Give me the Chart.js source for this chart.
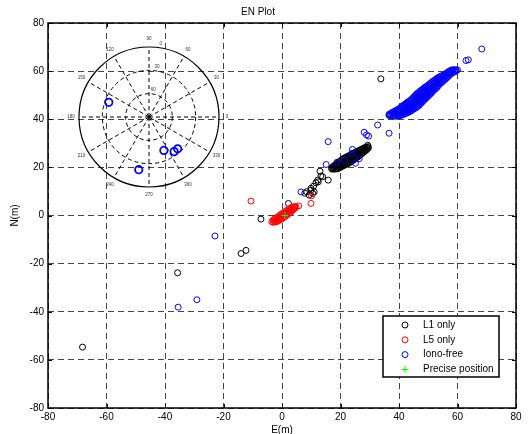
<!DOCTYPE html>
<html>
<head>
<meta charset="utf-8">
<script src="https://cdn.jsdelivr.net/npm/chart.js@4/dist/chart.umd.min.js"></script>
<style>
  html, body { margin: 0; padding: 0; background: #fff; }
  #wrap { position: relative; width: 528px; height: 434px; }
  #enChart { position: absolute; left: 0; top: 0; }
  #skyChart { position: absolute; left: 59px; top: 27px; }
</style>
</head>
<body>
<div id="wrap">
  <canvas id="enChart" width="528" height="434"></canvas>
  <canvas id="skyChart" width="180" height="180"></canvas>
</div>
<script>
const FONT = "'Liberation Sans', Arial, Helvetica, sans-serif";

// axis ticks (both E and N)
const axisTicks = [-80, -60, -40, -20, 0, 20, 40, 60, 80];

// E/N positions in metres
const l1Points = [
  [-68.2, -54.7], [-35.7, -23.8], [-14.0, -15.8], [-12.3, -14.5], [-7.2, -1.5],
  [2.2, 5.0], [7.8, 9.3], [8.4, 9.9], [9.9, 10.5], [11.0, 9.8], [9.3, 8.5],
  [10.5, 9.2], [9.9, 11.3], [10.8, 12.2], [11.6, 13.6], [12.4, 14.0], [12.2, 14.7],
  [13.3, 16.4], [13.9, 16.1], [15.8, 14.7], [13.0, 18.4], [29.3, 29.2], [33.8, 56.8],
  // dense cluster
  [17, 19.3], [17, 19.9], [17.5, 19.3], [17.5, 20.4],
  [18, 19.3], [18, 20.1], [18, 20.9], [18.5, 19.35], [18.5, 20.35], [18.5, 21.35],
  [19, 19.4], [19, 20.2], [19, 21.0], [19, 21.8], [19.5, 19.7], [19.5, 20.55], [19.5, 21.45], [19.5, 22.3],
  [20, 20.05], [20, 20.95], [20, 21.85], [20, 22.75], [20.5, 20.4], [20.5, 21.3], [20.5, 22.3], [20.5, 23.2],
  [21, 20.7], [21, 21.7], [21, 22.7], [21, 23.7], [21.5, 21.0], [21.5, 22.0], [21.5, 23.0], [21.5, 24.0],
  [22, 21.3], [22, 22.3], [22, 23.3], [22, 24.3], [22.5, 21.6], [22.5, 22.6], [22.5, 23.6], [22.5, 24.6],
  [23, 21.9], [23, 22.9], [23, 23.9], [23, 24.9], [23.5, 22.25], [23.5, 23.25], [23.5, 24.25], [23.5, 25.25],
  [24, 22.65], [24, 23.6], [24, 24.6], [24, 25.55], [24.5, 23.1], [24.5, 24.0], [24.5, 25.0], [24.5, 25.9],
  [25, 23.6], [25, 24.5], [25, 25.3], [25, 26.2], [25.5, 24.0], [25.5, 24.85], [25.5, 25.65], [25.5, 26.5],
  [26, 24.4], [26, 25.2], [26, 26.0], [26, 26.8], [26.5, 24.9], [26.5, 26.0], [26.5, 27.1],
  [27, 25.4], [27, 26.4], [27, 27.4], [27.5, 25.9], [27.5, 26.8], [27.5, 27.7],
  [28, 26.35], [28, 27.2], [28, 28.05], [28.5, 26.85], [28.5, 27.55], [28.5, 28.25],
  [29, 27.4], [29, 28.4], [29.5, 28.0], [29.5, 28.6]
];

const l5Points = [
  [-10.6, 6.0], [9.9, 5.0], [10.1, 8.2], [4.8, 3.6], [5.7, 4.0],
  // dense cluster
  [-3.5, -2.6], [-3.0, -2.8], [-3.0, -1.9],
  [-2.5, -2.75], [-2.5, -2.05], [-2.5, -1.35], [-2.0, -2.6], [-2.0, -1.8], [-2.0, -1.0],
  [-1.5, -2.4], [-1.5, -1.55], [-1.5, -0.7], [-1.0, -2.05], [-1.0, -1.1], [-1.0, -0.15],
  [-0.5, -1.65], [-0.5, -0.65], [-0.5, 0.35], [0, -1.3], [0, -0.3], [0, 0.7],
  [0.5, -0.9], [0.5, 0.1], [0.5, 1.1], [1.0, -0.45], [1.0, 0.55], [1.0, 1.55],
  [1.5, -0.05], [1.5, 0.95], [1.5, 1.95], [2.0, 0.45], [2.0, 1.4], [2.0, 2.35],
  [2.5, 0.95], [2.5, 1.85], [2.5, 2.75], [3.0, 1.4], [3.0, 2.25], [3.0, 3.1],
  [3.5, 2.0], [3.5, 2.7], [3.5, 3.4], [4.0, 2.6], [4.0, 3.6], [4.4, 3.1], [4.4, 3.7]
];

const ionoPoints = [
  [-35.5, -38.1], [-29.1, -35.0], [-22.9, -8.5], [6.5, 9.8], [15.1, 21.2], [15.8, 30.7],
  [18.8, 22.1], [21.3, 23.0], [23.8, 25.8], [24.1, 27.5], [25.1, 21.7], [26.4, 23.6],
  [28.1, 34.6], [28.9, 33.5], [29.6, 33.0], [32.7, 37.6], [36.6, 34.2],
  [62.9, 64.4], [63.7, 64.7], [68.3, 69.2],
  // dense cluster
  [36.6, 41.6], [36.6, 42.0], [37, 41.5], [37, 42.3], [37.5, 41.5], [37.5, 42.7],
  [38, 41.4], [38, 42.2], [38, 43.0], [38.5, 41.35], [38.5, 42.35], [38.5, 43.35],
  [39, 41.3], [39, 42.1], [39, 42.9], [39, 43.7], [39.5, 41.25], [39.5, 42.15], [39.5, 43.05], [39.5, 43.95],
  [40, 41.4], [40, 42.4], [40, 43.4], [40, 44.4], [40.5, 41.55], [40.5, 42.4], [40.5, 43.2], [40.5, 44.0], [40.5, 44.85],
  [41, 41.8], [41, 42.7], [41, 43.6], [41, 44.5], [41, 45.4], [41.5, 42.0], [41.5, 42.95], [41.5, 43.9], [41.5, 44.85], [41.5, 45.8],
  [42, 42.2], [42, 43.2], [42, 44.2], [42, 45.2], [42, 46.2],
  [42.5, 42.5], [42.5, 43.3], [42.5, 44.2], [42.5, 45.0], [42.5, 45.9], [42.5, 46.7],
  [43, 42.8], [43, 43.7], [43, 44.6], [43, 45.4], [43, 46.3], [43, 47.2],
  [43.5, 43.05], [43.5, 43.95], [43.5, 44.85], [43.5, 45.75], [43.5, 46.65], [43.5, 47.55],
  [44, 43.4], [44, 44.3], [44, 45.2], [44, 46.2], [44, 47.1], [44, 48.0],
  [44.5, 43.8], [44.5, 44.8], [44.5, 45.7], [44.5, 46.7], [44.5, 47.6], [44.5, 48.6],
  [45, 44.2], [45, 45.0], [45, 45.9], [45, 46.7], [45, 47.5], [45, 48.4], [45, 49.2],
  [45.5, 44.55], [45.5, 45.45], [45.5, 46.3], [45.5, 47.2], [45.5, 48.1], [45.5, 48.95], [45.5, 49.85],
  [46, 44.9], [46, 45.8], [46, 46.8], [46, 47.7], [46, 48.6], [46, 49.6], [46, 50.5],
  [46.5, 45.4], [46.5, 46.3], [46.5, 47.3], [46.5, 48.2], [46.5, 49.1], [46.5, 50.1], [46.5, 51.0],
  [47, 45.9], [47, 46.8], [47, 47.8], [47, 48.7], [47, 49.6], [47, 50.6], [47, 51.5],
  [47.5, 46.6], [47.5, 47.5], [47.5, 48.4], [47.5, 49.3], [47.5, 50.2], [47.5, 51.1], [47.5, 52.0],
  [48, 47.2], [48, 48.1], [48, 48.9], [48, 49.8], [48, 50.7], [48, 51.5], [48, 52.4],
  [48.5, 47.85], [48.5, 48.7], [48.5, 49.55], [48.5, 50.4], [48.5, 51.25], [48.5, 52.1], [48.5, 52.95],
  [49, 48.4], [49, 49.2], [49, 50.1], [49, 50.9], [49, 51.7], [49, 52.6], [49, 53.4],
  [49.5, 49.0], [49.5, 50.0], [49.5, 50.9], [49.5, 51.9], [49.5, 52.8], [49.5, 53.8],
  [50, 49.6], [50, 50.5], [50, 51.4], [50, 52.4], [50, 53.3], [50, 54.2],
  [50.5, 50.25], [50.5, 51.15], [50.5, 52.05], [50.5, 52.95], [50.5, 53.85], [50.5, 54.75],
  [51, 50.8], [51, 51.7], [51, 52.6], [51, 53.4], [51, 54.3], [51, 55.2],
  [51.5, 51.5], [51.5, 52.3], [51.5, 53.2], [51.5, 54.0], [51.5, 54.9], [51.5, 55.7],
  [52, 52.1], [52, 53.1], [52, 54.1], [52, 55.1], [52, 56.1],
  [52.5, 52.65], [52.5, 53.6], [52.5, 54.6], [52.5, 55.6], [52.5, 56.55],
  [53, 53.2], [53, 54.15], [53, 55.1], [53, 56.05], [53, 57.0],
  [53.5, 54.0], [53.5, 54.85], [53.5, 55.7], [53.5, 56.55], [53.5, 57.4],
  [54, 54.7], [54, 55.7], [54, 56.7], [54, 57.7], [54.5, 55.2], [54.5, 56.1], [54.5, 57.1], [54.5, 58.0],
  [55, 55.7], [55, 56.6], [55, 57.4], [55, 58.3], [55.5, 56.3], [55.5, 57.1], [55.5, 57.9], [55.5, 58.7],
  [56, 56.8], [56, 57.9], [56, 59.0], [56.5, 57.4], [56.5, 58.4], [56.5, 59.4],
  [57, 57.95], [57, 58.9], [57, 59.85], [57.5, 58.6], [57.5, 59.4], [57.5, 60.2],
  [58, 59.1], [58, 59.8], [58, 60.5], [58.5, 59.45], [58.5, 60.55],
  [59, 59.7], [59, 60.5], [59.5, 60.05], [59.5, 60.55], [60, 60.5]
];

const precisePoint = [[1.0, 0.0]];

// sky plot inset: polar angle (deg, ccw from east) and elevation (deg)
const satAngle = [160, 259, 294, 306, 312];
const satElevation = [35, 21, 43, 35, 35];
const skyAngleLabels = [0, 30, 60, 90, 120, 150, 180, 210, 240, 270, 300, 330];
const skyElevationRings = [0, 30, 60];

const toXY = pts => pts.map(p => ({ x: p[0], y: p[1] }));

// frame, inward ticks and legend box drawn like the original figure
const enFrame = {
  id: "enFrame",
  afterDraw(chart) {
    const { ctx, chartArea: a, scales } = chart;
    ctx.save();
    ctx.strokeStyle = "#000";
    ctx.lineWidth = 1;
    ctx.beginPath();
    scales.x.ticks.forEach(t => {
      const px = Math.round(scales.x.getPixelForValue(t.value)) + 0.5;
      ctx.moveTo(px, a.bottom); ctx.lineTo(px, a.bottom - 4);
      ctx.moveTo(px, a.top); ctx.lineTo(px, a.top + 4);
    });
    scales.y.ticks.forEach(t => {
      const py = Math.round(scales.y.getPixelForValue(t.value)) + 0.5;
      ctx.moveTo(a.left, py); ctx.lineTo(a.left + 4, py);
      ctx.moveTo(a.right, py); ctx.lineTo(a.right - 4, py);
    });
    ctx.stroke();
    ctx.lineWidth = 1.5;
    ctx.strokeRect(a.left, a.top, a.right - a.left, a.bottom - a.top);

    // legend
    const bw = 116, bh = 61;
    const bx = a.right - 17 - bw, by = a.bottom - 31 - bh;
    ctx.fillStyle = "#fff";
    ctx.fillRect(bx, by, bw, bh);
    ctx.lineWidth = 1.5;
    ctx.strokeRect(bx, by, bw, bh);
    ctx.font = "10px " + FONT;
    ctx.textBaseline = "middle";
    ctx.textAlign = "left";
    chart.data.datasets.forEach((ds, i) => {
      const y = by + 9 + i * 14.8;
      const mx = bx + 22;
      ctx.strokeStyle = ds.borderColor;
      ctx.lineWidth = 1;
      ctx.beginPath();
      if (ds.pointStyle === "cross") {
        ctx.moveTo(mx - 3.5, y); ctx.lineTo(mx + 3.5, y);
        ctx.moveTo(mx, y - 3.5); ctx.lineTo(mx, y + 3.5);
      } else {
        ctx.arc(mx, y, 3, 0, Math.PI * 2);
      }
      ctx.stroke();
      ctx.fillStyle = "#000";
      ctx.fillText(ds.label, bx + 40, y);
    });
    ctx.restore();
  }
};

const axisOpts = (title, pad) => ({
  type: "linear",
  min: -80,
  max: 80,
  afterBuildTicks: s => { s.ticks = axisTicks.map(v => ({ value: v })); },
  ticks: { font: { size: 10, family: FONT }, color: "#000", padding: pad, maxRotation: 0 },
  grid: { drawTicks: false, color: "#444", lineWidth: 1 },
  border: { display: false, dash: [6, 4] },
  title: { display: true, text: title, color: "#000", font: { size: 10, family: FONT } }
});

const xOpts = axisOpts("E(m)", 3);
xOpts.title.padding = { top: 0, bottom: -2 };
xOpts.afterFit = s => { s.height = 26; };
const yOpts = axisOpts("N(m)", 4);
yOpts.title.padding = { top: 9, bottom: 0 };
yOpts.afterFit = s => { s.width = 48; };

new Chart(document.getElementById("enChart"), {
  type: "scatter",
  data: {
    datasets: [
      { label: "L1 only", data: toXY(l1Points), borderColor: "#000000", order: 4 },
      { label: "L5 only", data: toXY(l5Points), borderColor: "#ff0000", order: 3 },
      { label: "Iono-free", data: toXY(ionoPoints), borderColor: "#0000ff", order: 2 },
      { label: "Precise position", data: toXY(precisePoint), borderColor: "#00ff00",
        pointStyle: "cross", pointRadius: 3.5, order: 1 }
    ]
  },
  options: {
    responsive: false,
    animation: false,
    layout: { padding: { left: 0, right: 12, top: 0, bottom: 0 } },
    elements: { point: { radius: 3, borderWidth: 1, backgroundColor: "rgba(0,0,0,0)", hoverRadius: 3 } },
    scales: { x: xOpts, y: yOpts },
    plugins: {
      legend: { display: false },
      tooltip: { enabled: false },
      title: {
        display: true, text: "EN Plot", color: "#000",
        font: { size: 10, family: FONT, weight: "normal" },
        padding: { top: 6, bottom: 5 }
      }
    }
  },
  plugins: [enFrame]
});

// polar grid of the sky plot
const skyGrid = {
  id: "skyGrid",
  beforeDatasetsDraw(chart) {
    const { ctx, scales: { x, y } } = chart;
    const cx = x.getPixelForValue(0), cy = y.getPixelForValue(0);
    const R = x.getPixelForValue(90) - cx;
    ctx.save();
    ctx.strokeStyle = "#000";
    ctx.lineWidth = 1;
    ctx.setLineDash([4, 3]);
    skyElevationRings.forEach(el => {
      if (el === 0) return;
      ctx.beginPath();
      ctx.arc(cx, cy, R * (90 - el) / 90, 0, Math.PI * 2);
      ctx.stroke();
    });
    skyAngleLabels.forEach(a => {
      const t = a * Math.PI / 180;
      ctx.beginPath();
      ctx.moveTo(cx, cy);
      ctx.lineTo(cx + R * Math.cos(t), cy - R * Math.sin(t));
      ctx.stroke();
    });
    ctx.setLineDash([]);
    ctx.lineWidth = 1.2;
    ctx.beginPath();
    ctx.arc(cx, cy, R, 0, Math.PI * 2);
    ctx.stroke();

    ctx.fillStyle = "#333";
    ctx.font = "4.5px " + FONT;
    ctx.textAlign = "center";
    ctx.textBaseline = "middle";
    skyAngleLabels.forEach(a => {
      const t = a * Math.PI / 180;
      ctx.fillText(String(a), cx + (R + 8) * Math.cos(t), cy - (R + 8) * Math.sin(t));
    });
    const lt = 81 * Math.PI / 180;
    skyElevationRings.forEach(el => {
      const r = R * (90 - el) / 90 + 4.5;
      ctx.fillText(String(el), cx + r * Math.cos(lt), cy - r * Math.sin(lt));
    });
    ctx.restore();
  }
};

new Chart(document.getElementById("skyChart"), {
  type: "scatter",
  data: {
    datasets: [{
      data: satAngle.map((a, i) => ({
        x: (90 - satElevation[i]) * Math.cos(a * Math.PI / 180),
        y: (90 - satElevation[i]) * Math.sin(a * Math.PI / 180)
      })),
      borderColor: "#0000ff",
      backgroundColor: "rgba(0,0,0,0)",
      pointRadius: 3.7,
      pointBorderWidth: 1.8
    }]
  },
  options: {
    responsive: false,
    animation: false,
    layout: { padding: 20 },
    scales: {
      x: { min: -90, max: 90, display: false },
      y: { min: -90, max: 90, display: false }
    },
    plugins: { legend: { display: false }, tooltip: { enabled: false } }
  },
  plugins: [skyGrid]
});
</script>
</body>
</html>
